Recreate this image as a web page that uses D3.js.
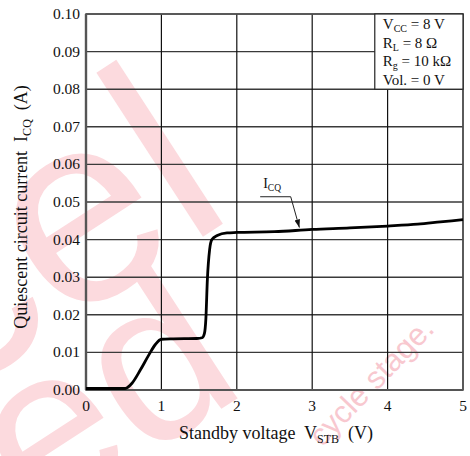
<!DOCTYPE html>
<html>
<head>
<meta charset="utf-8">
<script src="https://cdn.jsdelivr.net/npm/d3@7"></script>
<style>
  html, body { margin: 0; padding: 0; background: #fff; }
  svg { display: block; }
  text { font-family: "Liberation Serif", "Times New Roman", serif; fill: #111; }
  .wm { font-family: "Liberation Sans", Arial, sans-serif; fill: #fcdade; }
</style>
</head>
<body>
<svg width="470" height="456"></svg>
<script>
// curve: standby voltage (V) vs quiescent current (A)
var vstb = [0, 0.52, 0.61, 0.72, 0.83, 0.92, 1.0, 1.16, 1.47, 1.54, 1.57, 1.59, 1.61, 1.64, 1.67, 1.74, 1.87, 2.0, 2.5, 3.0, 3.5, 4.0, 4.4, 4.7, 5.0];
var icq  = [0.0004, 0.0004, 0.0018, 0.0053, 0.0092, 0.0121, 0.0135, 0.0136, 0.0137, 0.0139, 0.015, 0.019, 0.0295, 0.0374, 0.040, 0.0411, 0.0418, 0.0419, 0.0421, 0.0427, 0.0431, 0.0436, 0.0441, 0.0447, 0.0453];

var xTicks = [0, 1, 2, 3, 4, 5];
var yTicks = [0, 0.01, 0.02, 0.03, 0.04, 0.05, 0.06, 0.07, 0.08, 0.09, 0.10];

var conditions = [
    {main: "V", sub: "CC", rest: " = 8 V"},
    {main: "R", sub: "L", rest: " = 8 \u03A9"},
    {main: "R", sub: "g", rest: " = 10 k\u03A9"},
    {main: "Vol. = 0 V", sub: "", rest: ""}
];

var svg = d3.select("svg");
var margin = {top: 14, right: 7, bottom: 66, left: 86};
var width = 470 - margin.left - margin.right;
var height = 456 - margin.top - margin.bottom;

// faint watermark behind everything
var wm = svg.append("g").attr("class", "wm-layer");
wm.append("text").attr("class", "wm")
    .attr("transform", "translate(238,214) rotate(-33)")
    .attr("text-anchor", "end")
    .style("font-size", "270px")
    .text("cel");
wm.append("text").attr("class", "wm")
    .attr("transform", "translate(250,390) rotate(-33)")
    .attr("text-anchor", "end")
    .style("font-size", "230px")
    .text("ued");
wm.append("text").attr("class", "wm")
    .attr("transform", "translate(322,448) rotate(-46)")
    .style("font-size", "31px")
    .style("fill", "#f8c8cf")
    .text("cycle stage.");

var g = svg.append("g")
    .attr("transform", "translate(" + margin.left + "," + margin.top + ")");

var x = d3.scaleLinear().domain([0, 5]).range([0, width]);
var y = d3.scaleLinear().domain([0, 0.10]).range([height, 0]);

// grid
g.selectAll(".hgrid")
    .data(yTicks)
    .enter().append("line")
    .attr("class", "hgrid")
    .attr("x1", 0).attr("x2", width)
    .attr("y1", function(d) { return y(d); })
    .attr("y2", function(d) { return y(d); })
    .style("stroke", "#3a3a3a")
    .style("stroke-width", 1.4);

g.selectAll(".vgrid")
    .data(xTicks)
    .enter().append("line")
    .attr("class", "vgrid")
    .attr("x1", function(d) { return x(d); })
    .attr("x2", function(d) { return x(d); })
    .attr("y1", 0).attr("y2", height)
    .style("stroke", "#111")
    .style("stroke-width", 1.2);

// frame
g.append("rect")
    .attr("width", width).attr("height", height)
    .style("fill", "none")
    .style("stroke", "#555")
    .style("stroke-width", 1.6);
g.append("line")
    .attr("x1", 0).attr("x2", 0).attr("y1", 0).attr("y2", height)
    .style("stroke", "#555").style("stroke-width", 2.4);
g.append("line")
    .attr("x1", 0).attr("x2", width).attr("y1", height).attr("y2", height)
    .style("stroke", "#555").style("stroke-width", 2.2);

// conditions box
var boxX0 = 3.83;
g.append("rect")
    .attr("x", x(boxX0)).attr("y", y(0.10))
    .attr("width", x(5) - x(boxX0)).attr("height", y(0.08) - y(0.10))
    .style("fill", "#fff")
    .style("stroke", "#222")
    .style("stroke-width", 1.2);

var cond = g.selectAll(".cond")
    .data(conditions)
    .enter().append("text")
    .attr("class", "cond")
    .attr("x", x(boxX0) + 8)
    .attr("y", function(d, i) { return 15 + i * 18.6; })
    .style("font-size", "15px");
cond.append("tspan").text(function(d) { return d.main; });
cond.append("tspan")
    .attr("dy", 3)
    .style("font-size", "10px")
    .text(function(d) { return d.sub; });
cond.append("tspan")
    .attr("dy", -3)
    .text(function(d) { return d.rest; });

// curve
var pts = vstb.map(function(v, i) { return [v, icq[i]]; });
g.append("path")
    .datum(pts)
    .attr("d", d3.line()
        .x(function(d) { return x(d[0]); })
        .y(function(d) { return y(d[1]); })
        .curve(d3.curveMonotoneX))
    .style("fill", "none")
    .style("stroke", "#000")
    .style("stroke-width", 2.8)
    .style("stroke-linejoin", "round");

// ICQ label with leader and arrow
svg.append("defs").append("marker")
    .attr("id", "arr")
    .attr("viewBox", "0 0 10 10")
    .attr("refX", 10).attr("refY", 5)
    .attr("markerWidth", 8).attr("markerHeight", 8)
    .attr("markerUnits", "userSpaceOnUse")
    .attr("orient", "auto")
    .append("path")
    .attr("d", "M0,1.5 L10,5 L0,8.5 Z")
    .style("fill", "#111");

g.append("polyline")
    .attr("points", [[x(2.31), y(0.0514)], [x(2.715), y(0.0514)], [x(2.83), y(0.0432)]].join(" "))
    .style("fill", "none")
    .style("stroke", "#222")
    .style("stroke-width", 1)
    .attr("marker-end", "url(#arr)");

var lab = g.append("text")
    .attr("x", x(2.35)).attr("y", y(0.0538))
    .style("font-size", "14px");
lab.append("tspan").text("I");
lab.append("tspan").attr("dy", 3).style("font-size", "9.5px").text("CQ");

// tick labels
g.selectAll(".ylab")
    .data(yTicks)
    .enter().append("text")
    .attr("x", -6)
    .attr("y", function(d) { return y(d) + 5; })
    .attr("text-anchor", "end")
    .style("font-size", "15.5px")
    .text(function(d) { return d3.format(".2f")(d); });

g.selectAll(".xlab")
    .data(xTicks)
    .enter().append("text")
    .attr("x", function(d) { return x(d); })
    .attr("y", height + 21)
    .attr("text-anchor", "middle")
    .style("font-size", "15.5px")
    .text(function(d) { return d; });

// axis titles
var xt = svg.append("text")
    .attr("x", 276).attr("y", 439)
    .attr("text-anchor", "middle")
    .style("font-size", "18px")
    .attr("xml:space", "preserve");
xt.append("tspan").text("Standby voltage  V");
xt.append("tspan").attr("dy", 4).style("font-size", "12px").text("STB");
xt.append("tspan").attr("dy", -4).text("  (V)");

var yt = svg.append("text")
    .attr("transform", "translate(27,207) rotate(-90)")
    .attr("text-anchor", "middle")
    .style("font-size", "18px")
    .attr("xml:space", "preserve");
yt.append("tspan").text("Quiescent circuit current  I");
yt.append("tspan").attr("dy", 4).style("font-size", "12px").text("CQ");
yt.append("tspan").attr("dy", -4).text("  (A)");
</script>
</body>
</html>
